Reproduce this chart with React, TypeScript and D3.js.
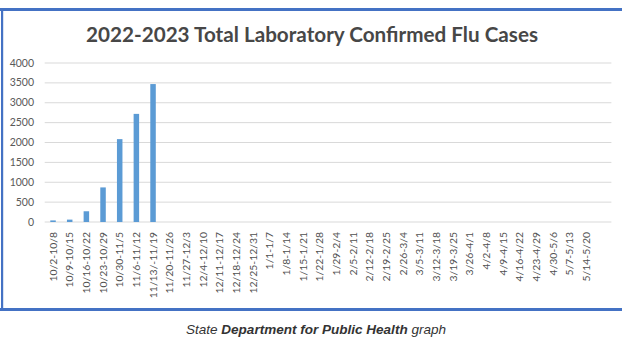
import React from "react";
import * as d3 from "d3";

const weeks = [
  "10/2-10/8", "10/9-10/15", "10/16-10/22", "10/23-10/29", "10/30-11/5", "11/6-11/12",
  "11/13/-11/19", "11/20-11/26", "11/27-12/3", "12/4-12/10", "12/11-12/17", "12/18-12/24",
  "12/25-12/31", "1/1-1/7", "1/8-1/14", "1/15-1/21", "1/22-1/28", "1/29-2/4", "2/5-2/11",
  "2/12-2/18", "2/19-2/25", "2/26-3/4", "3/5-3/11", "3/12-3/18", "3/19-3/25", "3/26-4/1",
  "4/2-4/8", "4/9-4/15", "4/16-4/22", "4/23-4/29", "4/30-5/6", "5/7-5/13", "5/14-5/20", "",
];
const cases = [40, 60, 270, 870, 2085, 2720, 3470];
const yTicks = [0, 500, 1000, 1500, 2000, 2500, 3000, 3500, 4000];
const title = "2022-2023 Total Laboratory Confirmed Flu Cases";

const W = 622, H = 352;
const plotLeft = 44.7, plotRight = 611.4, plotTop = 63, plotBottom = 222;
const BLUE = "#4472c4";

export default function App() {
  const x = d3.scaleBand<string>().domain(weeks.map((w, i) => String(i))).range([plotLeft, plotRight]);
  const y = d3.scaleLinear().domain([0, 4000]).range([plotBottom, plotTop]);
  const barW = 5.5;
  return (
    <svg width={W} height={H} style={{ position: "absolute", left: 0, top: 0, background: "#fff" }}>
      <rect x={0} y={8} width={W} height={3} fill={BLUE} />
      <rect x={1} y={9} width={2.2} height={301} fill={BLUE} />
      <rect x={0} y={308} width={W} height={3} fill={BLUE} />
      <text x={86} y={42} textLength={452} lengthAdjust="spacingAndGlyphs" fontFamily="Lato" fontWeight="bold" fontSize={21.5} fill="#474747">
        {title}
      </text>
      {yTicks.map((t) => (
        <g key={t}>
          <line x1={plotLeft} x2={plotRight} y1={y(t)} y2={y(t)} stroke="#d9d9d9" strokeWidth={1} />
          <text x={34} y={y(t) + 3.5} textAnchor="end" fontFamily="Lato" fontSize={10.5} fill="#595959">
            {t}
          </text>
        </g>
      ))}
      {cases.map((v, i) => (
        <rect
          key={i}
          x={x(String(i))! + x.bandwidth() / 2 - barW / 2}
          y={y(v)}
          width={barW}
          height={y(0) - y(v)}
          fill="#5b9bd5"
        />
      ))}
      {weeks.map((w, i) => {
        const cx = x(String(i))! + x.bandwidth() / 2;
        return (
          <text
            key={i}
            transform={`translate(${cx + 3.6},232) rotate(-90)`}
            textAnchor="end"
            fontFamily="Lato"
            fontSize={10.4}
            fill="#505050"
          >
            {w}
          </text>
        );
      })}
      <text x={186} y={334} textLength={260} lengthAdjust="spacingAndGlyphs" fontFamily="Liberation Sans" fontStyle="italic" fontSize={13} fill="#333">
        State <tspan fontWeight="bold">Department for Public Health</tspan> graph
      </text>
    </svg>
  );
}
